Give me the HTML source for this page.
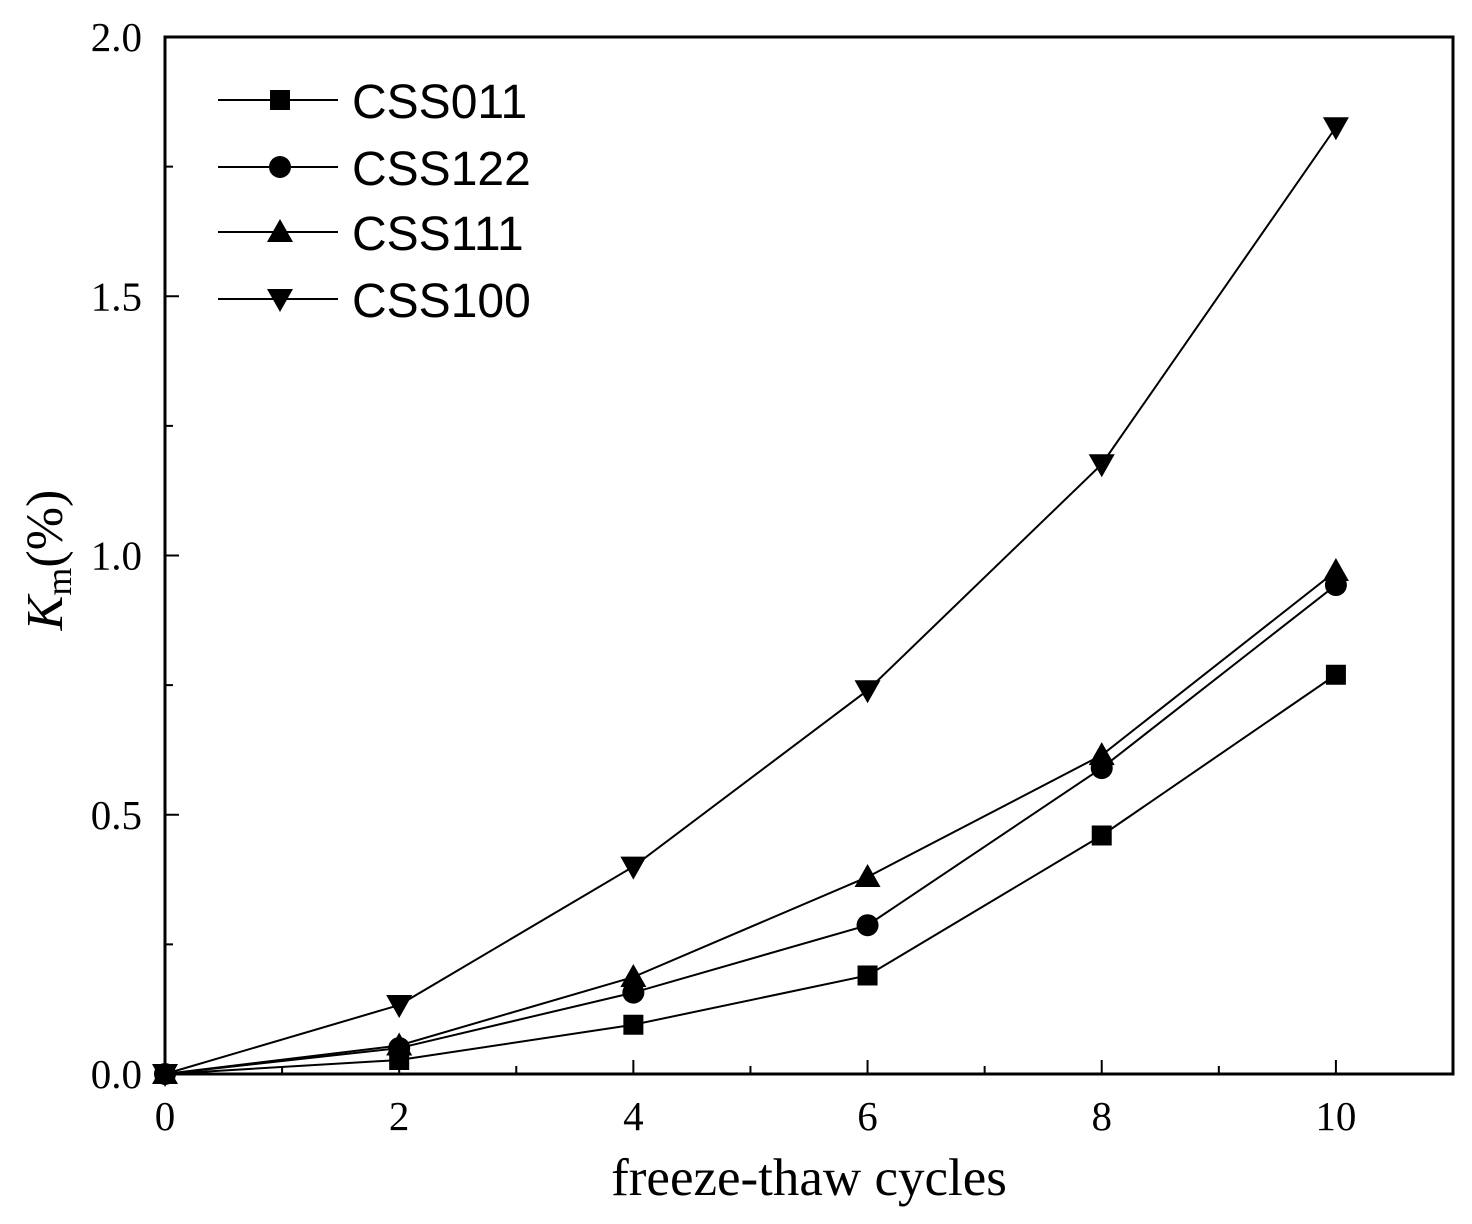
<!DOCTYPE html>
<html><head><meta charset="utf-8"><style>
html,body{margin:0;padding:0;background:#fff;}
svg{display:block;}
</style></head><body>
<svg id="chart" width="1472" height="1224" xmlns="http://www.w3.org/2000/svg"></svg>
<script>
const categories = [0, 2, 4, 6, 8, 10];
const css011 = [0, 0.027, 0.095, 0.19, 0.46, 0.77];
const css122 = [0, 0.05, 0.157, 0.287, 0.59, 0.943];
const css111 = [0, 0.055, 0.187, 0.38, 0.615, 0.97];
const css100 = [0, 0.133, 0.40, 0.74, 1.176, 1.826];
const xTickLabels = ["0","2","4","6","8","10"];
const yTickLabels = ["0.0","0.5","1.0","1.5","2.0"];
const seriesNames = ["CSS011","CSS122","CSS111","CSS100"];

const NS="http://www.w3.org/2000/svg";
const svg=document.getElementById('chart');
const L=165,R=1453,T=37,B=1074;
const xMax=11,yMax=2;
const xs=v=>L+(R-L)*v/xMax;
const ys=v=>B-(B-T)*v/yMax;
function mk(tag,attrs,parent){const e=document.createElementNS(NS,tag);for(const k in attrs)e.setAttribute(k,attrs[k]);(parent||svg).appendChild(e);return e;}

for(let i=0;i<=11;i++){
  const x=xs(i);const len=(i%2===0)?14:8;
  const t=mk('line',{x1:x,y1:B,x2:x,y2:B-len,stroke:'#000','stroke-width':2});
  
  
}
xTickLabels.forEach((lab,i)=>{
  const t=mk('text',{x:xs(+lab),y:B+56,'text-anchor':'middle','font-family':'Liberation Serif, serif','font-size':41});
  t.textContent=lab;
  
  
});
for(let i=0;i<=8;i++){
  const v=i*0.25;const y=ys(v);const len=(i%2===0)?14:8;
  const t=mk('line',{x1:L,y1:y,x2:L+len,y2:y,stroke:'#000','stroke-width':2});
  
  
}
yTickLabels.forEach(lab=>{
  const t=mk('text',{x:L-23,y:ys(+lab)+14,'text-anchor':'end','font-family':'Liberation Serif, serif','font-size':41});
  t.textContent=lab;
  
  
});
const frame=mk('rect',{x:L,y:T,width:R-L,height:B-T,fill:'none',stroke:'#000','stroke-width':3});



const xt=mk('text',{x:809,y:1195,'text-anchor':'middle','font-family':'Liberation Serif, serif','font-size':53});
xt.textContent='freeze-thaw cycles';


const yt=mk('text',{transform:'translate(62,560) rotate(-90)','text-anchor':'middle','font-family':'Liberation Serif, serif','font-size':52});
yt.innerHTML='<tspan font-style="italic">K</tspan><tspan font-size="36" dy="9">m</tspan><tspan dy="-9">(%)</tspan>';



function marker(type,x,y,g){
  if(type===0) return mk('rect',{x:x-10,y:y-10,width:20,height:20,fill:'#000'},g);
  if(type===1) return mk('circle',{cx:x,cy:y,r:11,fill:'#000'},g);
  if(type===2) return mk('polygon',{points:`${x},${y-13} ${x+13},${y+10} ${x-13},${y+10}`,fill:'#000'},g);
  return mk('polygon',{points:`${x},${y+13} ${x+13},${y-10} ${x-13},${y-10}`,fill:'#000'},g);
}
const allSeries=[css011,css122,css111,css100];
allSeries.forEach((data,si)=>{
  const g=mk('g',{});
  
  
  const pts=data.map((v,i)=>xs(categories[i])+','+ys(v)).join(' ');
  const pl=mk('polyline',{points:pts,fill:'none',stroke:'#000','stroke-width':2},g);
  
  
  data.forEach((v,i)=>{
    const m=marker(si,xs(categories[i]),ys(v),g);
    
    
  });
});
const lg=mk('g',{});


const ly=[100,167,232,299];
seriesNames.forEach((n,i)=>{
  const g=mk('g',{},lg);
  
  
  mk('line',{x1:218,y1:ly[i],x2:338,y2:ly[i],stroke:'#000','stroke-width':2},g);
  marker(i,280,ly[i],g);
  const t=mk('text',{x:352,y:ly[i]+18,'font-family':'Liberation Sans, sans-serif','font-size':48},g);
  t.textContent=n;
});
</script>
</body></html>
